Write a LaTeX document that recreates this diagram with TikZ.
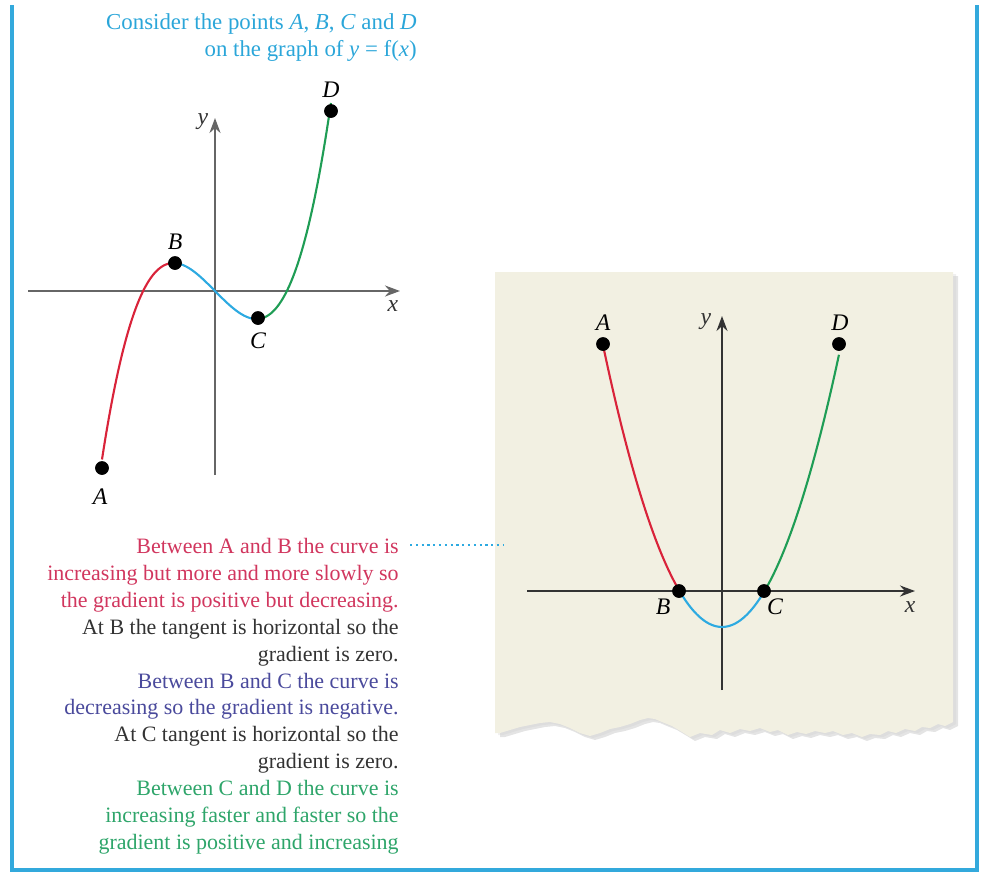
\documentclass[tikz,border=0pt]{standalone}
\usepackage{fontspec}
\setmainfont{Liberation Serif}
\usetikzlibrary{arrows.meta}

\definecolor{frameblue}{HTML}{33A9DC}
\definecolor{introcyan}{HTML}{2BA6D9}
\definecolor{curvered}{HTML}{D9233A}
\definecolor{curveblue}{HTML}{2DAAE1}
\definecolor{curvegreen}{HTML}{1F9D55}
\definecolor{textred}{HTML}{D1365E}
\definecolor{textpurple}{HTML}{4A4A9C}
\definecolor{textgreen}{HTML}{2EA56A}
\definecolor{textdark}{HTML}{333333}
\definecolor{paper}{HTML}{F2F0E2}

\tikzset{
  axis/.style={line width=1.3pt, -{Stealth[length=3mm,width=2.2mm]}},
  curve/.style={line width=1.2pt, smooth, samples=60},
  ptlabel/.style={font=\fontsize{13.5}{13.5}\selectfont\itshape, inner sep=1pt},
  dot/.style={fill=black}
}

\begin{document}
\begin{tikzpicture}[x=0.02cm, y=-0.02cm]
    \useasboundingbox (0,0) rectangle (983,873);

    % Frame
    \draw[frameblue, line width=2.5pt] (12,5) -- (12,870) -- (977,870) -- (977,5);

    % Intro text
    \node[introcyan, align=right, anchor=north east, inner sep=0pt,
          font=\fontsize{13}{15.3}\selectfont] (intro) at (417,13)
        {Consider the points \textit{A}, \textit{B}, \textit{C} and \textit{D}\\
         on the graph of \textit{y} = f(\textit{x})};

    % Left graph (cubic)
    \coordinate (O1) at (215,291);
    \draw[axis, black!60] (28,291) -- (400,291);
    \draw[axis, black!60] (215,475) -- (215,118);
    \node[ptlabel, text=textdark] (x1) at (393,306) {x};
    \node[ptlabel, text=textdark] (y1) at (203,122) {y};

    \draw[curve, curvered, domain=-1.13:-0.40, variable=\t]
        plot ({215+100*\t}, {291-(196*\t*\t*\t-101.2*\t)});
    \draw[curve, curveblue, domain=-0.40:0.43, variable=\t]
        plot ({215+100*\t}, {291-(196*\t*\t*\t-101.2*\t)});
    \draw[curve, curvegreen, domain=0.43:1.16, variable=\t]
        plot ({215+100*\t}, {291-(196*\t*\t*\t-101.2*\t)});

    \coordinate (A1) at (102,468);
    \coordinate (B1) at (175,263);
    \coordinate (C1) at (258,318);
    \coordinate (D1) at (331,111);
    \foreach \p in {A1,B1,C1,D1}
        \filldraw[dot] (\p) circle (6.5);
    \node[ptlabel] (lA1) at (100,497) {A};
    \node[ptlabel] (lB1) at (175,242) {B};
    \node[ptlabel] (lC1) at (258,341) {C};
    \node[ptlabel] (lD1) at (331,90) {D};

    % Paper panel with torn edge
    \def\panel{(495,272) -- (953,272) -- (953,722) -- (945,726) -- (938,724) -- (930,728)
        -- (922,727) -- (915,731) -- (905,729) -- (896,733) -- (888,731) -- (880,735)
        -- (870,734) -- (862,737) -- (852,733) -- (843,735) -- (833,731) -- (825,733)
        -- (815,731) -- (806,734) -- (797,732) -- (788,735) -- (778,730) -- (770,732)
        -- (760,728) -- (750,731) -- (740,729) -- (730,733) -- (720,730) -- (712,735)
        -- (700,733) -- (690,737) -- (682,732) -- (672,726) -- (662,722) -- (655,719)
        -- (648,718) -- (640,720) -- (630,724) -- (620,727) -- (610,729) -- (600,733)
        -- (590,736) -- (580,733) -- (570,728) -- (560,724) -- (550,722) -- (540,723)
        -- (530,725) -- (520,727) -- (510,730) -- (500,733) -- (495,733) -- cycle}
    \fill[black!30, opacity=0.35, shift={(5,4)}] \panel;
    \fill[black!20, opacity=0.3, shift={(3,2)}] \panel;
    \fill[paper] \panel;

    % Right graph (parabola)
    \coordinate (O2) at (722,591);
    \draw[axis, black!80, line width=1pt] (527,591) -- (915,591);
    \draw[axis, black!80, line width=1pt] (722,690) -- (722,316);
    \node[ptlabel, text=textdark] (x2) at (910,607) {x};
    \node[ptlabel, text=textdark] (y2) at (706,322) {y};

    \draw[curve, curvered, domain=-1.19:-0.425, variable=\t]
        plot ({722+100*\t}, {591-199*(\t*\t-0.1806)});
    \draw[curve, curveblue, domain=-0.425:0.425, variable=\t]
        plot ({722+100*\t}, {591-199*(\t*\t-0.1806)});
    \draw[curve, curvegreen, domain=0.425:1.17, variable=\t]
        plot ({722+100*\t}, {591-199*(\t*\t-0.1806)});

    \coordinate (A2) at (603,344);
    \coordinate (B2) at (679,591);
    \coordinate (C2) at (764,591);
    \coordinate (D2) at (839,344);
    \foreach \p in {A2,B2,C2,D2}
        \filldraw[dot] (\p) circle (6.5);
    \node[ptlabel] (lA2) at (603,323) {A};
    \node[ptlabel] (lB2) at (663,607) {B};
    \node[ptlabel] (lC2) at (775,607) {C};
    \node[ptlabel] (lD2) at (840,323) {D};

    % Explanation
    \node[align=right, anchor=north east, inner sep=0pt,
          font=\fontsize{12.5}{15.3}\selectfont] (expl) at (399,538)
        {\textcolor{textred}{Between A and B the curve is}\\
         \textcolor{textred}{increasing but more and more slowly so}\\
         \textcolor{textred}{the gradient is positive but decreasing.}\\
         \textcolor{textdark}{At B the tangent is horizontal so the}\\
         \textcolor{textdark}{gradient is zero.}\\
         \textcolor{textpurple}{Between B and C the curve is}\\
         \textcolor{textpurple}{decreasing so the gradient is negative.}\\
         \textcolor{textdark}{At C tangent is horizontal so the}\\
         \textcolor{textdark}{gradient is zero.}\\
         \textcolor{textgreen}{Between C and D the curve is}\\
         \textcolor{textgreen}{increasing faster and faster so the}\\
         \textcolor{textgreen}{gradient is positive and increasing}};
    \coordinate (lead) at (503,545);
    \draw[curveblue, line width=1.3pt, dotted] (410,545) -- (lead);

\end{tikzpicture}
\end{document}
